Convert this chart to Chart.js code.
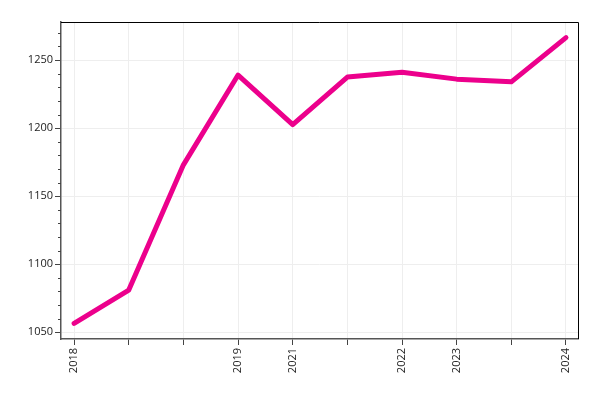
<!DOCTYPE html>
<html>
<head>
<meta charset="utf-8">
<script src="https://cdn.jsdelivr.net/npm/chart.js@4.4.1/dist/chart.umd.min.js"></script>
<style>
  html, body { margin: 0; padding: 0; background: #fff; }
  #wrap { width: 600px; height: 400px; }
</style>
</head>
<body>
<div id="wrap"><canvas id="line_chart"></canvas></div>
<script>
const labels = ["2018", "", "", "2019", "2021", "", "2022", "2023", "", "2024"];
const values = [1056.5, 1081, 1173, 1239, 1202.5, 1237.5, 1241, 1236, 1234, 1266.5];
const yTicks = [1050, 1100, 1150, 1200, 1250];

// minor ticks on y axis + top/right frame
const framePlugin = {
  id: "frame",
  afterDraw(chart) {
    const { ctx, chartArea: a, scales } = chart;
    const y = scales.y;
    ctx.save();
    ctx.strokeStyle = "#000";
    ctx.lineWidth = 1;
    ctx.beginPath();
    ctx.moveTo(a.left, a.top + 0.5);
    ctx.lineTo(a.right + 0.5, a.top + 0.5);
    ctx.lineTo(a.right + 0.5, a.bottom);
    ctx.stroke();
    ctx.strokeStyle = "#444";
    ctx.beginPath();
    for (let v = Math.ceil(y.min / 10) * 10; v <= y.max; v += 10) {
      if (v % 50 === 0) continue;
      const py = Math.round(y.getPixelForValue(v)) + 0.5;
      ctx.moveTo(a.left - 3, py);
      ctx.lineTo(a.left, py);
    }
    ctx.stroke();
    ctx.restore();
  },
};

const ctx = document.getElementById("line_chart").getContext("2d");
Chart.defaults.font.family = "'Open Sans', 'DejaVu Sans', sans-serif";
Chart.defaults.font.size = 11;
Chart.defaults.color = "#222";

new Chart(ctx, {
  type: "line",
  data: {
    datasets: [
      {
        data: values.map((v, i) => ({ x: i, y: v })),
        borderColor: "#ec008c",
        borderWidth: 5,
        borderCapStyle: "round",
        borderJoinStyle: "round",
        pointRadius: 0,
        tension: 0,
      },
    ],
  },
  options: {
    responsive: true,
    maintainAspectRatio: false,
    animation: false,
    layout: { padding: { top: 22, right: 22, left: 0, bottom: 0 } },
    plugins: { legend: { display: false }, tooltip: { enabled: false } },
    scales: {
      x: {
        type: "linear",
        min: -0.24,
        max: 9.22,
        afterBuildTicks: (s) => {
          s.ticks = labels.map((l, i) => ({ value: i }));
        },
        afterFit: (s) => {
          s.height = 61;
        },
        ticks: {
          callback: (v) => labels[v],
          minRotation: 90,
          maxRotation: 90,
          autoSkip: false,
          padding: 3,
        },
        grid: { color: "#eeeeee", tickColor: "#444", tickLength: 6 },
        border: { color: "#555", width: 1.5 },
      },
      y: {
        min: 1045,
        max: 1278,
        afterBuildTicks: (s) => {
          s.ticks = yTicks.map((v) => ({ value: v }));
        },
        afterFit: (s) => {
          s.width = 61;
        },
        ticks: { padding: 2, callback: (v) => String(v) },
        grid: { color: "#eeeeee", tickColor: "#444", tickLength: 6 },
        border: { color: "#555", width: 1.5 },
      },
    },
  },
  plugins: [framePlugin],
});
</script>
</body>
</html>
